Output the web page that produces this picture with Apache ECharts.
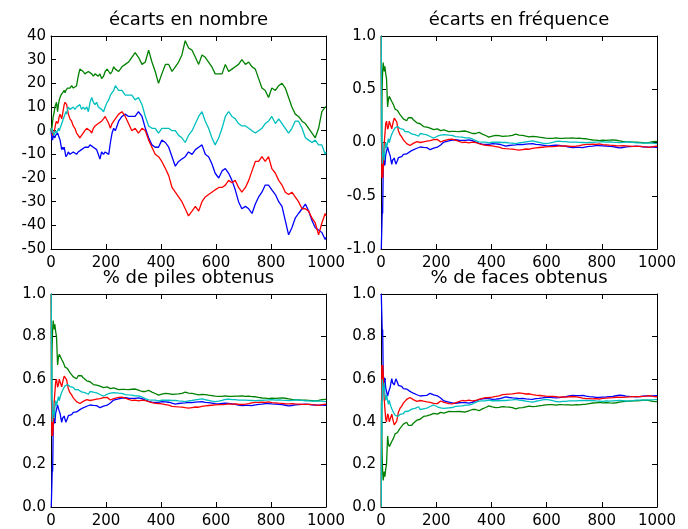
<!DOCTYPE html>
<html>
<head>
<meta charset="utf-8">
<script src="https://cdn.jsdelivr.net/npm/echarts@6/dist/echarts.min.js"></script>
<style>
  html, body { margin: 0; background: #fff; }
  #chart { width: 688px; height: 529px; }
</style>
</head>
<body>
<div id="chart"></div>
<script>
// nombre de lancers (abscisses)
const tirages = [0, 1, 2, 3, 4, 5, 6, 8, 10, 12, 14, 17, 20, 24, 27, 30, 33, 36, 39, 42, 45, 48, 51, 54, 57, 60,
  63, 69, 75, 81, 87, 93, 99, 105, 111, 117, 123, 130, 136, 142, 148, 154, 160, 166, 172, 178, 184, 191, 197,
  204, 210, 216, 222, 228,
  234, 246, 258, 270, 282, 294, 306, 318, 331, 343, 355, 367, 379, 391, 403, 416, 428, 440, 452, 464,
  476, 488, 500, 513, 525, 537, 549, 561, 573, 585, 597, 610, 622, 634, 646, 658, 670, 682, 694, 707,
  719, 731, 743, 755, 767, 779, 791, 803, 816, 828, 840, 852, 864, 876, 888, 900, 913, 925, 937, 949,
  961, 973, 985, 997, 1000];

// écart piles - faces, une liste par partie
const bleu = [0, -1, -2, -3, -4, -3, -4, -2, -2, -2, -3, -2, -2, -1, -2, -3, -4, -6, -8, -7, -8, -7, -9, -11, -11, -10,
  -9, -10, -10, -9, -9, -10, -9, -9, -8, -8, -7, -7, -7, -6, -6, -7, -7, -8, -10, -12, -9, -10, -9,
  -9, -10, -5, -1, 1,
  0, 4, 6, 7, 6, 6, 6, 8, 6, 1, -3, -6, -7, -7, -4, -5, -7, -11, -15, -13,
  -12, -11, -9, -10, -8, -7, -6, -10, -11, -14, -18, -20, -17, -16, -18, -21, -25, -30, -33, -32,
  -33, -35, -31, -28, -26, -23, -23, -25, -27, -30, -32, -38, -44, -41, -37, -35, -33, -31, -34, -38,
  -41, -42, -43, -46, -45];
const vert = [0, 1, 0, 1, 2, 3, 4, 6, 7, 8, 10, 11, 12, 8, 11, 13, 14, 15, 15, 16, 16, 17, 16, 17, 17, 18,
  18, 18, 19, 18, 18, 19, 23, 26, 26, 25, 24, 24, 25, 25, 24, 23, 24, 24, 23, 24, 22, 23, 25,
  26, 25, 24, 25, 27,
  26, 25, 27, 28, 29, 31, 33, 31, 28, 29, 34, 29, 25, 20, 24, 28, 28, 25, 27, 29,
  32, 38, 35, 34, 31, 28, 32, 31, 29, 27, 24, 24, 24, 28, 25, 26, 27, 28, 30, 28,
  29, 27, 26, 22, 18, 17, 14, 18, 17, 19, 20, 18, 14, 10, 7, 6, 4, 3, 1, -1,
  -3, 1, 8, 10, 10];
const rouge = [0, 1, 0, -1, 0, -1, -2, -2, -1, 0, 1, 3, 4, 3, 4, 6, 7, 7, 5, 7, 9, 11, 12, 12, 11, 9,
  7, 5, 4, 2, 1, -1, -2, -3, -2, -1, 0, 1, 1, 0, -1, 1, 2, 2, 3, 3, 4, 5, 6,
  6, 3, 1, 3, 4,
  4, 7, 8, 6, 3, 0, 1, -1, 1, 0, -4, -7, -10, -11, -13, -16, -19, -24, -26, -28,
  -30, -33, -36, -34, -32, -34, -30, -28, -27, -26, -25, -24, -24, -23, -21, -22, -21, -24, -26, -24,
  -21, -17, -13, -13, -11, -13, -11, -16, -18, -21, -23, -26, -27, -26, -28, -30, -33, -33, -34, -37,
  -39, -44, -39, -35, -36];
const cyan = [0, 1, 0, 1, 0, -1, 0, -1, -1, -2, -1, 0, -1, 0, 1, 0, 1, 2, 3, 4, 5, 6, 7, 8, 7, 9,
  10, 9, 9, 10, 9, 10, 10, 11, 9, 10, 9, 10, 8, 12, 14, 12, 11, 12, 10, 10, 9, 8, 10,
  12, 13, 15, 15, 17,
  19, 17, 17, 15, 15, 15, 13, 14, 11, 6, 2, 1, 1, -1, 1, 1, 1, 0, 0, -2,
  -3, -5, -2, 0, 3, 6, 8, 4, 1, -3, -6, -3, 1, 6, 8, 6, 5, 3, 2, 2,
  1, 0, -1, 0, 1, 3, 4, 6, 3, 5, 3, 1, -1, 1, 4, 4, 1, -3, -4, -5,
  -4, -6, -6, -10, -9];

const titres = ['écarts en nombre', 'écarts en fréquence', '% de piles obtenus', '% de faces obtenus'];
const xTicks = [0, 200, 400, 600, 800, 1000];
const yTicksNombre = [-50, -40, -30, -20, -10, 0, 10, 20, 30, 40];
const yTicksFreq = [-1.0, -0.5, 0.0, 0.5, 1.0];
const yTicksPct = [0.0, 0.2, 0.4, 0.6, 0.8, 1.0];

const parties = [
  { data: bleu, color: '#0000ff' },
  { data: vert, color: '#008000' },
  { data: rouge, color: '#ff0000' },
  { data: cyan, color: '#00bfbf' },
];

const panneaux = [
  { grid: { left: 51, top: 36, width: 275, height: 213 }, ticks: yTicksNombre, dec: 0, f: (n, s) => s },
  { grid: { left: 381, top: 36, width: 276, height: 213 }, ticks: yTicksFreq, dec: 1, f: (n, s) => s / n },
  { grid: { left: 51, top: 294, width: 275, height: 214 }, ticks: yTicksPct, dec: 1, f: (n, s) => (n + s) / (2 * n) },
  { grid: { left: 381, top: 294, width: 276, height: 214 }, ticks: yTicksPct, dec: 1, f: (n, s) => (n - s) / (2 * n) },
];

const font = 'DejaVu Sans';
const tick = { show: true, inside: true, length: 5, lineStyle: { color: '#000', width: 1 } };
const line = { show: true, onZero: false, lineStyle: { color: '#000', width: 1 } };

const grid = [], xAxis = [], yAxis = [], title = [], series = [];

panneaux.forEach((p, i) => {
  grid.push(p.grid);
  const yMin = p.ticks[0], yMax = p.ticks[p.ticks.length - 1];
  const yStep = p.ticks[1] - p.ticks[0];
  const xStep = xTicks[1] - xTicks[0];
  const base = { gridIndex: i, type: 'value', splitLine: { show: false }, axisLine: line, axisTick: tick };
  xAxis.push(Object.assign({}, base, {
    min: xTicks[0], max: xTicks[xTicks.length - 1], interval: xStep, position: 'bottom',
    axisLabel: {
      color: '#000', fontSize: 15, fontFamily: font, margin: 7, showMinLabel: true, showMaxLabel: true,
      formatter: (v) => String(v),
    },
  }));
  xAxis.push(Object.assign({}, base, {
    min: xTicks[0], max: xTicks[xTicks.length - 1], interval: xStep, position: 'top', axisLabel: { show: false },
  }));
  yAxis.push(Object.assign({}, base, {
    min: yMin, max: yMax, interval: yStep, position: 'left',
    axisLabel: {
      color: '#000', fontSize: 15, fontFamily: font, margin: 5, showMinLabel: true, showMaxLabel: true,
      formatter: (v) => v.toFixed(p.dec),
    },
  }));
  yAxis.push(Object.assign({}, base, {
    min: yMin, max: yMax, interval: yStep, position: 'right', axisLabel: { show: false },
  }));
  title.push({
    text: titres[i],
    left: p.grid.left + p.grid.width / 2,
    top: p.grid.top - 25,
    textAlign: 'center',
    padding: 0,
    textStyle: { color: '#000', fontSize: 18, fontWeight: 'normal', fontFamily: font },
  });
  parties.forEach((pt) => {
    const pts = [];
    tirages.forEach((n, k) => {
      if (i === 0 || n > 0) pts.push([n, p.f(n, pt.data[k])]);
    });
    series.push({
      type: 'line',
      xAxisIndex: 2 * i,
      yAxisIndex: 2 * i,
      data: pts,
      showSymbol: false,
      symbol: 'none',
      clip: true,
      lineStyle: { color: pt.color, width: 1.3 },
      itemStyle: { color: pt.color },
    });
  });
});

const chart = echarts.init(document.getElementById('chart'));
chart.setOption({
  animation: false,
  backgroundColor: '#fff',
  title,
  grid,
  xAxis,
  yAxis,
  series,
});
</script>
</body>
</html>
